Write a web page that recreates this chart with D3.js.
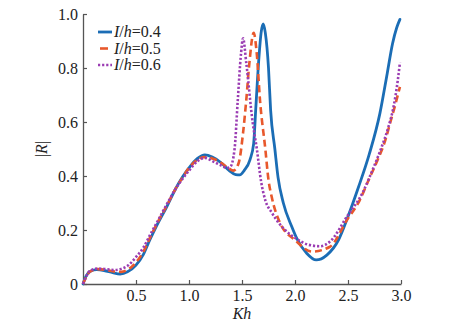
<!DOCTYPE html>
<html>
<head>
<meta charset="utf-8">
<script src="https://cdn.jsdelivr.net/npm/d3@7"></script>
<style>
  html, body { margin: 0; padding: 0; background: #fff; }
  svg { display: block; font-family: "Liberation Serif", serif; }
</style>
</head>
<body>
<div id="chart"></div>
<script>
// Data: Kh and |R| for each I/h ratio
const kh04 = [0, 0.03, 0.07, 0.13, 0.2, 0.28, 0.35, 0.42, 0.5, 0.57, 0.63, 0.7, 0.79, 0.87, 0.94, 1.0, 1.08, 1.15, 1.22, 1.3, 1.38, 1.44, 1.48, 1.52, 1.575, 1.61, 1.63, 1.66, 1.68, 1.70, 1.72, 1.75, 1.77, 1.81, 1.84, 1.89, 1.97, 2.02, 2.11, 2.2, 2.3, 2.41, 2.5, 2.6, 2.7, 2.8, 2.87, 2.92, 2.96, 2.99];
const r04  = [0, 0.03, 0.047, 0.053, 0.05, 0.042, 0.037, 0.045, 0.07, 0.11, 0.163, 0.22, 0.286, 0.35, 0.397, 0.43, 0.465, 0.478, 0.47, 0.45, 0.42, 0.405, 0.404, 0.42, 0.46, 0.52, 0.65, 0.84, 0.93, 0.963, 0.93, 0.80, 0.644, 0.50, 0.395, 0.3, 0.212, 0.166, 0.114, 0.089, 0.107, 0.163, 0.25, 0.36, 0.48, 0.63, 0.78, 0.89, 0.95, 0.98];

const kh05 = [0, 0.07, 0.14, 0.22, 0.3, 0.36, 0.43, 0.5, 0.57, 0.63, 0.7, 0.79, 0.87, 0.94, 1.0, 1.08, 1.14, 1.22, 1.3, 1.37, 1.42, 1.47, 1.51, 1.54, 1.57, 1.61, 1.64, 1.67, 1.72, 1.75, 1.78, 1.86, 2.0, 2.16, 2.33, 2.49, 2.61, 2.7, 2.78, 2.85, 2.9, 2.95, 2.99];
const r05  = [0, 0.047, 0.055, 0.052, 0.046, 0.045, 0.055, 0.08, 0.12, 0.17, 0.225, 0.29, 0.35, 0.395, 0.43, 0.46, 0.47, 0.465, 0.45, 0.43, 0.42, 0.45, 0.56, 0.68, 0.82, 0.93, 0.85, 0.68, 0.50, 0.385, 0.323, 0.225, 0.163, 0.12, 0.138, 0.237, 0.31, 0.39, 0.46, 0.53, 0.60, 0.67, 0.73];

const kh06 = [0, 0.07, 0.14, 0.22, 0.3, 0.36, 0.43, 0.5, 0.57, 0.63, 0.7, 0.79, 0.87, 0.94, 1.0, 1.08, 1.15, 1.23, 1.3, 1.36, 1.39, 1.43, 1.46, 1.49, 1.51, 1.54, 1.6, 1.64, 1.68, 1.72, 1.78, 1.86, 1.95, 2.02, 2.13, 2.24, 2.33, 2.49, 2.64, 2.75, 2.82, 2.88, 2.93, 2.97, 2.99];
const r06  = [0, 0.05, 0.057, 0.055, 0.052, 0.056, 0.07, 0.1, 0.135, 0.18, 0.23, 0.295, 0.35, 0.39, 0.42, 0.455, 0.467, 0.453, 0.44, 0.43, 0.434, 0.50, 0.68, 0.85, 0.91, 0.82, 0.60, 0.50, 0.38, 0.31, 0.265, 0.22, 0.185, 0.166, 0.145, 0.14, 0.157, 0.25, 0.34, 0.44, 0.51, 0.58, 0.657, 0.755, 0.82];

const seriesNames = ["0.4", "0.5", "0.6"];
const xTicks = [0.5, 1.0, 1.5, 2.0, 2.5, 3.0];
const yTicks = [0, 0.2, 0.4, 0.6, 0.8, 1.0];

const W = 449, H = 322;
const margin = { top: 14, right: 48, bottom: 38, left: 83 };
const iw = W - margin.left - margin.right;
const ih = H - margin.top - margin.bottom;
const fontFam = "Liberation Serif, serif";
const fs = 16;

const svg = d3.select("#chart").append("svg")
    .attr("width", W)
    .attr("height", H);

const g = svg.append("g")
    .attr("transform", `translate(${margin.left},${margin.top})`);

const x = d3.scaleLinear().domain([0, 3]).range([0, iw]);
const y = d3.scaleLinear().domain([0, 1]).range([ih, 0]);

const styles = [
    { color: "#1b6db5", dash: null, width: 2.8, cap: "round" },
    { color: "#e8582c", dash: "7 4", width: 2.6, cap: "butt" },
    { color: "#9b3db3", dash: "2.2 1.9", width: 2.6, cap: "butt" }
];

const series = [
    kh04.map((k, i) => ({ k, r: r04[i] })),
    kh05.map((k, i) => ({ k, r: r05[i] })),
    kh06.map((k, i) => ({ k, r: r06[i] }))
];

// axes
const axisColor = "#555";
const xAxis = g.append("g")
    .attr("transform", `translate(0,${ih})`)
    .call(d3.axisBottom(x).tickValues(xTicks).tickFormat(d3.format(".1f")).tickSizeInner(-4).tickSizeOuter(0).tickPadding(6));
const yAxis = g.append("g")
    .call(d3.axisLeft(y).tickValues(yTicks).tickFormat(d => d === 0 ? "0" : d3.format(".1f")(d)).tickSizeInner(-4).tickSizeOuter(0).tickPadding(5));

[xAxis, yAxis].forEach(a => {
    a.attr("font-family", fontFam)
        .attr("font-size", fs);
    a.select(".domain").attr("stroke", axisColor).attr("stroke-width", 1.3);
    a.selectAll(".tick line").attr("stroke", axisColor).attr("stroke-width", 1.2);
    a.selectAll(".tick text").attr("fill", "#222");
});

// axis titles
svg.append("text")
    .attr("x", margin.left + iw / 2)
    .attr("y", 319)
    .attr("text-anchor", "middle")
    .attr("font-family", fontFam)
    .attr("font-size", fs)
    .attr("font-style", "italic")
    .attr("fill", "#222")
    .text("Kh");

svg.append("text")
    .attr("transform", `translate(47,${margin.top + ih / 2}) rotate(-90)`)
    .attr("text-anchor", "middle")
    .attr("font-family", fontFam)
    .attr("font-size", fs)
    .attr("fill", "#222")
    .html("|<tspan font-style='italic'>R</tspan>|");

// curves
const line = d3.line()
    .x(d => x(d.k))
    .y(d => y(d.r))
    .curve(d3.curveMonotoneX);

series.forEach((s, i) => {
    const st = styles[i];
    g.append("path")
        .datum(s)
        .attr("fill", "none")
        .attr("stroke", st.color)
        .attr("stroke-width", st.width)
        .attr("stroke-linecap", st.cap)
        .attr("stroke-linejoin", "round")
        .attr("stroke-dasharray", st.dash)
        .attr("d", line);
});

// legend
const legend = svg.append("g").attr("transform", "translate(98,32)");
seriesNames.forEach((name, i) => {
    const st = styles[i];
    const row = legend.append("g").attr("transform", `translate(0,${i * 16.5})`);
    row.append("line")
        .attr("x1", i === 1 ? 2 : 0)
        .attr("x2", i === 1 ? 10 : 14)
        .attr("y1", 0).attr("y2", 0)
        .attr("stroke", st.color)
        .attr("stroke-width", st.width)
        .attr("stroke-dasharray", i === 2 ? st.dash : null);
    const t = row.append("text")
        .attr("x", 16)
        .attr("y", 5)
        .attr("font-family", fontFam)
        .attr("font-size", fs)
        .attr("fill", "#222");
    t.append("tspan").attr("font-style", "italic").text("I");
    t.append("tspan").text("/");
    t.append("tspan").attr("font-style", "italic").text("h");
    t.append("tspan").text("=" + name);
});
</script>
</body>
</html>
